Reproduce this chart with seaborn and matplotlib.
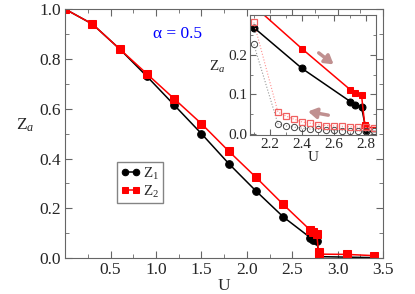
import numpy as np
import pandas as pd
import matplotlib
matplotlib.use('Agg')
import matplotlib.pyplot as plt
import seaborn as sns

# filled branch (main panel)
U = [0.0, 0.3, 0.6, 0.9, 1.2, 1.5, 1.8, 2.1, 2.4, 2.7, 2.73, 2.77, 2.8, 3.1, 3.4]
Z1 = [1.0, 0.94, 0.84, 0.73, 0.615, 0.50, 0.38, 0.27, 0.166, 0.082, 0.074, 0.068, 0.006, 0.004, 0.002]
U2 = [0.0, 0.3, 0.6, 0.9, 1.2, 1.5, 1.8, 2.1, 2.4, 2.7, 2.73, 2.77, 2.79, 2.8, 3.1, 3.4]
Z2 = [1.0, 0.94, 0.84, 0.74, 0.64, 0.54, 0.43, 0.325, 0.216, 0.112, 0.104, 0.098, 0.023, 0.016, 0.015, 0.01]

# open branch (inset, decreasing U)
Ub = [2.1, 2.25, 2.3, 2.35, 2.4, 2.45, 2.5, 2.55, 2.6, 2.65, 2.7, 2.75, 2.8, 2.85]
Z1b = [0.227, 0.025, 0.02, 0.017, 0.014, 0.012, 0.011, 0.010, 0.009, 0.008, 0.008, 0.007, 0.007, 0.006]
Z2b = [0.283, 0.055, 0.045, 0.037, 0.030, 0.027, 0.023, 0.021, 0.020, 0.019, 0.018, 0.017, 0.016, 0.015]

sns.set_style("ticks")
plt.rcParams['font.family'] = ['Liberation Serif', 'DejaVu Serif']
plt.rcParams['mathtext.fontset'] = 'custom'
plt.rcParams['mathtext.rm'] = 'Liberation Serif'
plt.rcParams['mathtext.it'] = 'Liberation Serif:italic'
plt.rcParams['xtick.direction'] = 'in'
plt.rcParams['ytick.direction'] = 'in'

spine_col = '#666666'

fig = plt.figure(figsize=(4.15, 2.94), dpi=100)
ax = fig.add_axes([0.157, 0.122, 0.766, 0.847])

sns.lineplot(x=U, y=Z1, ax=ax, color='black', marker='o', markersize=5.5,
             markeredgecolor='black', linewidth=1.1, sort=False, estimator=None, label='Z$_1$')
sns.lineplot(x=U2, y=Z2, ax=ax, color='red', marker='s', markersize=5.5,
             markeredgecolor='red', linewidth=1.1, sort=False, estimator=None, label='Z$_2$')

ax.set_xlim(0, 3.5)
ax.set_ylim(0, 1.0)
ax.set_xticks([0.5, 1.0, 1.5, 2.0, 2.5, 3.0, 3.5])
ax.set_xticks(np.arange(0.25, 3.5, 0.5), minor=True)
ax.set_yticks([0.0, 0.2, 0.4, 0.6, 0.8, 1.0])
ax.set_yticks(np.arange(0.1, 1.0, 0.2), minor=True)
ax.tick_params(which='both', top=True, right=True, color=spine_col, labelsize=12.5, pad=3)
ax.tick_params(which='major', length=5)
ax.tick_params(which='minor', length=3)
for s in ax.spines.values():
    s.set_color(spine_col)
ax.set_xlabel('U', fontsize=12.5, labelpad=0)
ax.set_ylabel('Z$_a$', fontsize=12.5, rotation=0, labelpad=10)
ax.text(1.24, 0.9, 'α = 0.5', color='blue', fontsize=12.5, ha='center', va='center')

leg = ax.legend(loc='upper left', bbox_to_anchor=(0.163, 0.386), numpoints=2, fontsize=11,
                fancybox=False, handlelength=1.3, handletextpad=0.15, borderpad=0.25,
                labelspacing=0.1, borderaxespad=0, frameon=True, markerscale=0.85)
leg.get_frame().set_edgecolor(spine_col)
leg.get_frame().set_linewidth(1.0)

# inset
axi = fig.add_axes([0.602, 0.541, 0.304, 0.408])
sns.lineplot(x=U[7:], y=Z1[7:], ax=axi, color='black', marker='o', markersize=5,
             markeredgecolor='black', linewidth=1.1, sort=False, estimator=None, legend=False)
sns.lineplot(x=U2[7:], y=Z2[7:], ax=axi, color='red', marker='s', markersize=5,
             markeredgecolor='red', linewidth=1.1, sort=False, estimator=None, legend=False)
axi.plot(Ub, Z1b, color='#999999', linestyle=':', linewidth=0.8, marker='o', markersize=4.5,
         markerfacecolor='none', markeredgecolor='#444444', markeredgewidth=0.7)
axi.plot(Ub, Z2b, color='#ff9090', linestyle=':', linewidth=0.8, marker='s', markersize=4.5,
         markerfacecolor='none', markeredgecolor='#f06060', markeredgewidth=0.9)

axi.annotate('', xy=(2.61, 0.172), xytext=(2.49, 0.21),
             arrowprops=dict(arrowstyle='-|>,head_length=0.5,head_width=0.3', color='#c09090', lw=2.5))
axi.annotate('', xy=(2.42, 0.058), xytext=(2.58, 0.046),
             arrowprops=dict(arrowstyle='-|>,head_length=0.5,head_width=0.3', color='#c09090', lw=2.5))

axi.set_xlim(2.075, 2.86)
axi.set_ylim(-0.003, 0.302)
axi.set_xticks([2.2, 2.4, 2.6, 2.8])
axi.set_xticks([2.1, 2.3, 2.5, 2.7], minor=True)
axi.set_yticks([0.0, 0.1, 0.2])
axi.set_yticks([0.05, 0.15, 0.25], minor=True)
axi.tick_params(which='both', top=True, right=True, color=spine_col, labelsize=11, pad=2)
axi.tick_params(which='major', length=4)
axi.tick_params(which='minor', length=2.5)
for s in axi.spines.values():
    s.set_color(spine_col)
axi.set_xlabel('U', fontsize=11, labelpad=0)
axi.set_ylabel('Z$_a$', fontsize=11, rotation=0, labelpad=8)

fig.savefig('out.png', dpi=100)
